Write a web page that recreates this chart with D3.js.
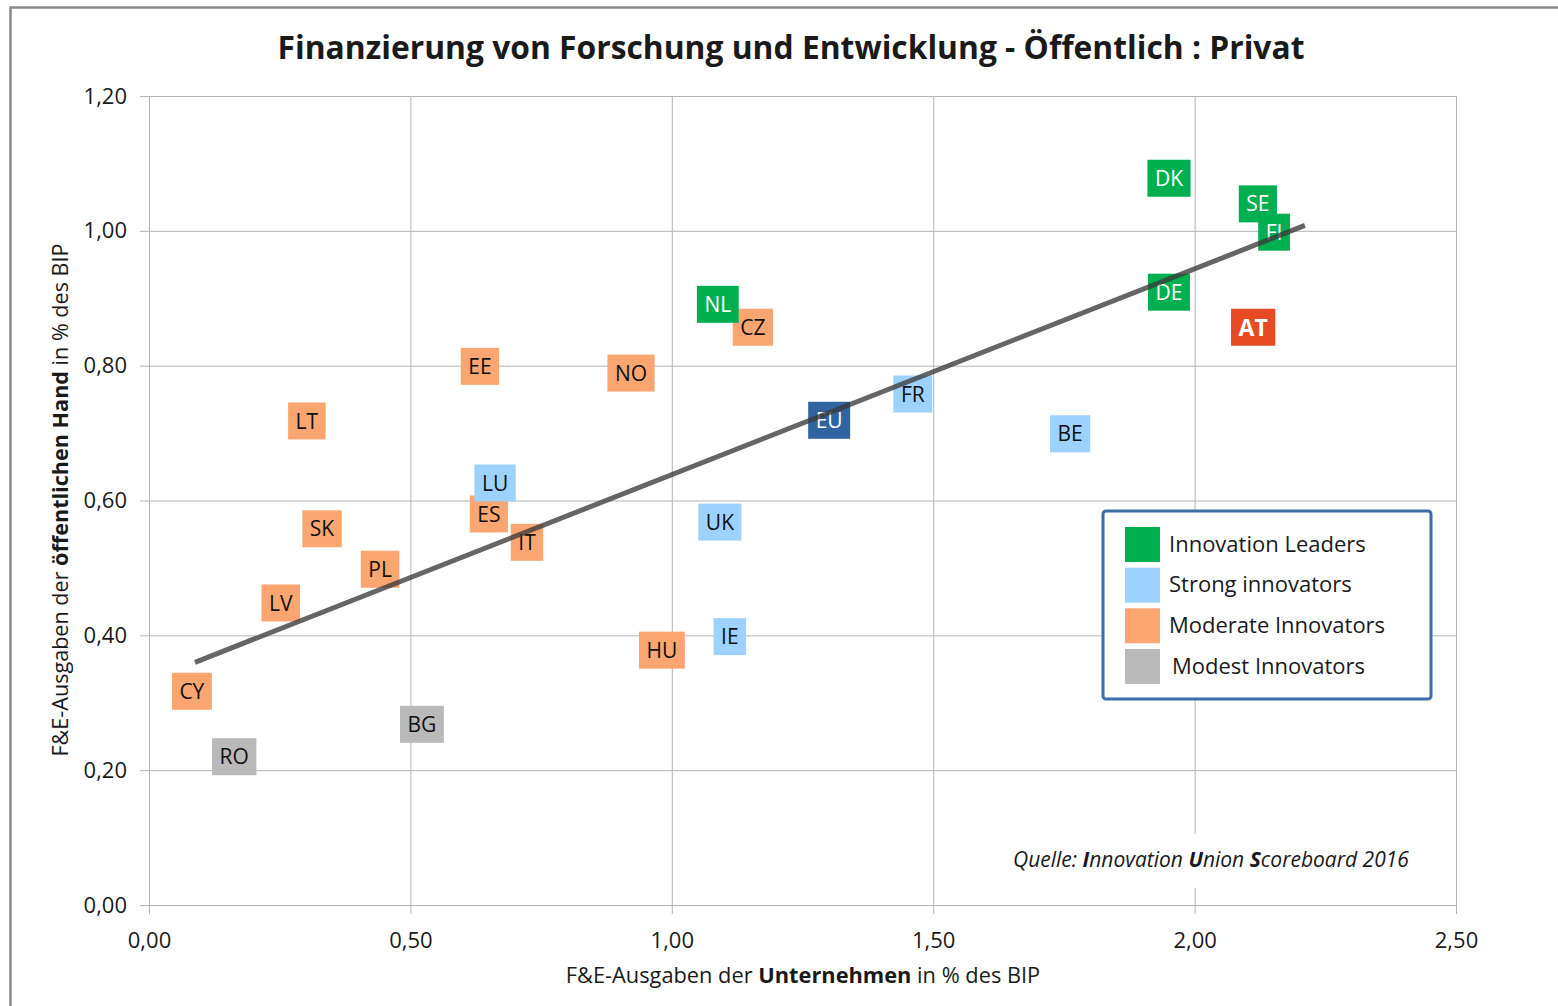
<!DOCTYPE html>
<html>
<head>
<meta charset="utf-8">
<script src="https://cdn.jsdelivr.net/npm/d3@7"></script>
<style>
  body { margin: 0; background: #fff; }
  text { font-family: "Open Sans", Lato, sans-serif; fill: #1a1a1a; }
</style>
</head>
<body>
<svg id="chart"></svg>
<script>
const width = 1558;
const height = 1006;
const padding = {top: 96, right: 102, bottom: 101, left: 149};

// data (draw order = overlap order)
const countries = ['RO', 'BG', 'CY', 'LV', 'PL', 'SK', 'LT', 'EE', 'ES', 'LU', 'IT', 'NO', 'HU', 'UK', 'IE', 'CZ', 'NL', 'EU', 'FR', 'BE', 'DK', 'DE', 'SE', 'FI', 'AT'];
const businessRD = [0.163, 0.522, 0.082, 0.252, 0.442, 0.331, 0.302, 0.633, 0.650, 0.662, 0.723, 0.922, 0.981, 1.092, 1.111, 1.155, 1.088, 1.301, 1.461, 1.762, 1.951, 1.951, 2.121, 2.152, 2.112];
const publicRD = [0.220, 0.268, 0.317, 0.448, 0.498, 0.558, 0.718, 0.799, 0.580, 0.626, 0.538, 0.789, 0.378, 0.568, 0.398, 0.857, 0.891, 0.719, 0.758, 0.699, 1.078, 0.909, 1.040, 0.998, 0.857];
const groups = ['modest', 'modest', 'moderate', 'moderate', 'moderate', 'moderate', 'moderate', 'moderate', 'moderate', 'strong', 'moderate', 'moderate', 'moderate', 'strong', 'strong', 'moderate', 'leader', 'eu', 'strong', 'strong', 'leader', 'leader', 'leader', 'leader', 'at'];

const trendX = [0.088, 2.211];
const trendY = [0.360, 1.008];

const xTicks = [0, 0.5, 1, 1.5, 2, 2.5];
const yTicks = [0, 0.2, 0.4, 0.6, 0.8, 1.0, 1.2];

const legendKeys = ['leader', 'strong', 'moderate', 'modest'];
const legendLabels = ['Innovation Leaders', 'Strong innovators', 'Moderate Innovators', 'Modest Innovators'];

const colors = {
  leader: '#00b050',
  strong: '#9dd1ff',
  moderate: '#fba570',
  modest: '#b9b9b9',
  eu: '#2f64a0',
  at: '#e64a22'
};
const whiteText = new Set(['leader', 'eu', 'at']);

const points = countries.map((c, i) => ({
  name: c, x: businessRD[i], y: publicRD[i], group: groups[i]
}));

const fmt = v => d3.format('.2f')(v).replace('.', ',');

const xScale = d3.scaleLinear()
  .domain([0, 2.5])
  .range([padding.left, width - padding.right]);

const yScale = d3.scaleLinear()
  .domain([0, 1.2])
  .range([height - padding.bottom, padding.top]);

const chart = d3.select('#chart')
  .attr('width', width)
  .attr('height', height);

// outer frame
chart.append('rect')
  .attr('x', 10.5).attr('y', 7.5)
  .attr('width', 1600).attr('height', 1100)
  .attr('fill', 'none')
  .attr('stroke', '#8a8a8a')
  .attr('stroke-width', 2.5);

// grid
chart.append('g')
  .attr('transform', `translate(${padding.left}, 0)`)
  .call(d3.axisLeft(yScale).tickValues(yTicks).tickSize(-(width - padding.left - padding.right)).tickFormat(''))
  .call(g => g.select('.domain').remove())
  .call(g => g.selectAll('line').attr('stroke', '#b4b4b4'));

chart.append('g')
  .attr('transform', `translate(0, ${height - padding.bottom})`)
  .call(d3.axisBottom(xScale).tickValues(xTicks).tickSize(-(height - padding.top - padding.bottom)).tickFormat(''))
  .call(g => g.select('.domain').remove())
  .call(g => g.selectAll('line').attr('stroke', '#b4b4b4'));

// axes
const xAxis = chart.append('g')
  .attr('transform', `translate(0, ${height - padding.bottom})`)
  .call(d3.axisBottom(xScale).tickValues(xTicks).tickSize(9).tickPadding(18).tickFormat(fmt));

const yAxis = chart.append('g')
  .attr('transform', `translate(${padding.left}, 0)`)
  .call(d3.axisLeft(yScale).tickValues(yTicks).tickSize(9).tickPadding(13).tickFormat(fmt));

[xAxis, yAxis].forEach(ax => {
  ax.select('.domain').attr('stroke', '#b4b4b4');
  ax.selectAll('line').attr('stroke', '#b4b4b4');
  ax.selectAll('text')
    .attr('font-size', 22)
    .style('font-family', '"Open Sans", Lato, sans-serif')
    .attr('fill', '#1a1a1a');
});

// legend box
const legend = chart.append('g');
legend.append('rect')
  .attr('x', 1103).attr('y', 511)
  .attr('width', 328).attr('height', 188)
  .attr('rx', 3)
  .attr('fill', '#fff')
  .attr('stroke', '#3c6da6')
  .attr('stroke-width', 3);

const legendY = d3.scalePoint().domain(legendKeys).range([544, 666]);
legend.selectAll('rect.sw')
  .data(legendKeys)
  .enter()
  .append('rect')
  .attr('class', 'sw')
  .attr('x', 1125)
  .attr('y', k => legendY(k) - 17)
  .attr('width', 35).attr('height', 35)
  .attr('fill', k => colors[k]);

legend.selectAll('text')
  .data(legendKeys)
  .enter()
  .append('text')
  .attr('x', (k, i) => i === 3 ? 1172 : 1169)
  .attr('y', k => legendY(k))
  .attr('dy', '.35em')
  .attr('font-size', 22)
  .text((k, i) => legendLabels[i]);

// source note
chart.append('rect')
  .attr('x', 1005).attr('y', 834)
  .attr('width', 420).attr('height', 54)
  .attr('fill', '#fff');

const source = chart.append('text')
  .attr('x', 1013).attr('y', 867)
  .attr('font-size', 21)
  .attr('font-style', 'italic');
source.append('tspan').text('Quelle: ');
source.append('tspan').attr('font-weight', 'bold').text('I');
source.append('tspan').text('nnovation ');
source.append('tspan').attr('font-weight', 'bold').text('U');
source.append('tspan').text('nion ');
source.append('tspan').attr('font-weight', 'bold').text('S');
source.append('tspan').text('coreboard 2016');

// points as labelled boxes
const point = chart.selectAll('g.pt')
  .data(points)
  .enter()
  .append('g')
  .attr('class', 'pt')
  .attr('transform', d => `translate(${xScale(d.x)}, ${yScale(d.y)})`);

point.append('rect')
  .attr('fill', d => colors[d.group]);

point.append('text')
  .attr('text-anchor', 'middle')
  .attr('dy', '.36em')
  .attr('font-size', d => d.group === 'at' ? 23 : 21)
  .attr('font-weight', d => d.group === 'at' ? 'bold' : 'normal')
  .style('fill', d => whiteText.has(d.group) ? '#fff' : '#111')
  .text(d => d.name);

point.each(function() {
  const g = d3.select(this);
  const w = g.select('text').node().getComputedTextLength() + 15;
  g.select('rect')
    .attr('x', -w / 2).attr('y', -18.5)
    .attr('width', w).attr('height', 37);
});

// trend line
chart.append('line')
  .attr('x1', xScale(trendX[0])).attr('y1', yScale(trendY[0]))
  .attr('x2', xScale(trendX[1])).attr('y2', yScale(trendY[1]))
  .attr('stroke', '#3a3a3a')
  .attr('stroke-opacity', 0.78)
  .attr('stroke-width', 5);

// title
chart.append('text')
  .attr('x', 791).attr('y', 59)
  .attr('text-anchor', 'middle')
  .attr('font-size', 31.8)
  .attr('font-weight', 'bold')
  .text('Finanzierung von Forschung und Entwicklung - Öffentlich : Privat');

// axis titles
const xTitle = chart.append('text')
  .attr('x', 803).attr('y', 983)
  .attr('text-anchor', 'middle')
  .attr('font-size', 21.8);
xTitle.append('tspan').text('F&E-Ausgaben der ');
xTitle.append('tspan').attr('font-weight', 'bold').text('Unternehmen');
xTitle.append('tspan').text(' in % des BIP');

const yTitle = chart.append('text')
  .attr('transform', 'translate(68, 500) rotate(-90)')
  .attr('text-anchor', 'middle')
  .attr('font-size', 21.6);
yTitle.append('tspan').text('F&E-Ausgaben der ');
yTitle.append('tspan').attr('font-weight', 'bold').text('öffentlichen Hand');
yTitle.append('tspan').text(' in % des BIP');
</script>
</body>
</html>
